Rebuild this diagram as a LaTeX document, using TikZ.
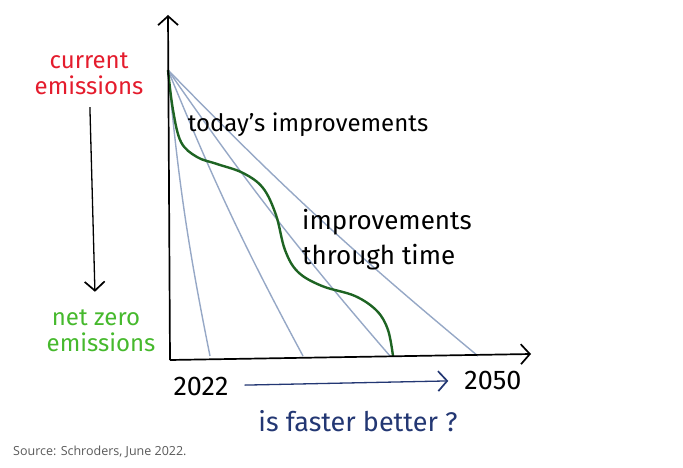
\documentclass[tikz,border=0pt]{standalone}
\usepackage{fontspec}
\setmainfont{Fira Sans}
\newfontfamily\srcfont{Open Sans}
\usetikzlibrary{arrows.meta}
\begin{document}
\begin{tikzpicture}[x=1pt, y=-1pt,
  hand/.style={font=\fontsize{24}{26}\selectfont, inner sep=0pt},
  fan/.style={draw=MyFan, line width=1.4pt},
  barb/.style={-{Straight Barb[length=9pt, width=20pt, line width=1.7pt]}}]
\definecolor{MyRed}{RGB}{228, 28, 45}
\definecolor{MyGreen}{RGB}{70, 185, 45}
\definecolor{MyDark}{RGB}{30, 100, 35}
\definecolor{MyFan}{RGB}{150, 168, 198}
\definecolor{MyNavy}{RGB}{35, 55, 115}
\useasboundingbox (0,0) rectangle (683,468);
\coordinate (ytop) at (168,15);
\coordinate (origin) at (170,360);
\coordinate (xend) at (531,354);
\coordinate (peak) at (168,70);
\foreach \x in {210, 303, 390, 478}{
\coordinate (end\x) at (\x,356);
\draw[fan] (peak) to[bend right=3] (end\x);
}
\draw[MyDark, line width=2.4pt] plot[smooth, tension=0.6] coordinates {(168,70) (173,110) (181,142) (197,157) (217,164) (243,173) (263,188) (276,215) (285,250) (298,272) (322,286) (355,296) (377,311) (388,330) (393,356)};
\draw[barb, line width=1.7pt] (origin) -- (ytop);
\draw[barb, line width=1.7pt] (origin) -- (xend);
\node[hand, MyRed, align=center] (current) at (89,74) {current\\emissions};
\node[hand, MyGreen, align=center] (netzero) at (96,331) {net zero\\\hspace*{10pt}emissions};
\draw[barb, line width=1.3pt, shorten <=12pt, shorten >=18pt] (current) -- (netzero);
\node[hand] (today) at (308,125) {today's improvements};
\node[hand, font=\fontsize{26}{35}\selectfont, align=left, anchor=west] (through) at (302,240) {improvements\\through time};
\node[hand, font=\fontsize{27}{28}\selectfont] (y2022) at (201,386) {2022};
\node[hand, font=\fontsize{27}{28}\selectfont] (y2050) at (493,380) {2050};
\draw[barb, MyNavy, line width=1.3pt, shorten <=16pt, shorten >=16pt] (y2022) -- (y2050);
\node[hand, MyNavy, font=\fontsize{27}{28}\selectfont] (faster) at (358,421) {is faster better ?};
\node[font=\srcfont\fontsize{12.5}{14}\selectfont, text=black!65, anchor=west, inner sep=0pt] (source) at (13,452) {Source: Schroders, June 2022.};
\end{tikzpicture}
\end{document}
